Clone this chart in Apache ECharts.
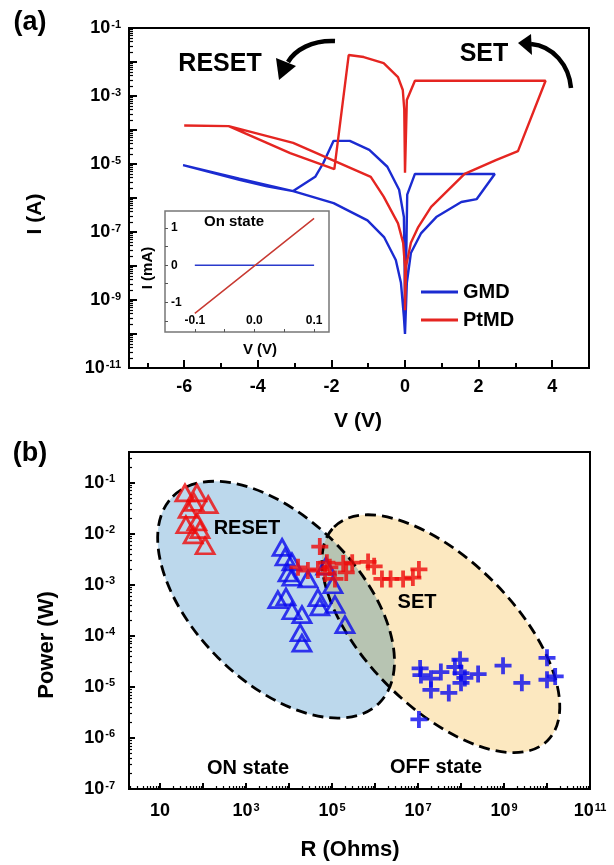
<!DOCTYPE html>
<html><head><meta charset="utf-8">
<script src="https://cdn.jsdelivr.net/npm/echarts@6/dist/echarts.min.js"></script>
<style>html,body{margin:0;padding:0;background:#fff}#c{width:614px;height:865px}</style>
</head><body><div id="c"></div>
<script>
// ---------- Panel (a): I-V sweeps (V in volts, I in amps) ----------
const gmdV = [0, 0.05, 0.16, 0.44, 0.85, 1.53, 1.95, 2.44, 0.27, 0.06, 0.03, 0, -0.01, -0.03, -0.16, -0.48, -0.97, -1.5, -1.94, -2.22, -2.44, -3.04, -4.5, -6.03, -4.5, -3.75, -3.04, -1.94, -1.02, -0.57, -0.25, -0.11, -0.03, 0];
const gmdI = [1.0e-10, 3.2e-9, 2.4e-8, 9.3e-8, 2.75e-7, 7.6e-7, 9.3e-7, 5.1e-6, 5.1e-6, 1.26e-6, 1.0e-8, 1.0e-10, 1.0e-8, 2.75e-7, 1.74e-6, 8.3e-6, 2.6e-5, 4.8e-5, 4.8e-5, 1.07e-5, 4.2e-6, 1.6e-6, 3.7e-6, 9.3e-6, 3.4e-6, 2.2e-6, 1.6e-6, 7.1e-7, 2.2e-7, 7.1e-8, 1.5e-8, 3.2e-9, 3.2e-10, 1.0e-10];
const ptmdV = [0, 0.03, 0.16, 0.36, 0.71, 1.62, 2.47, 3.07, 3.82, 0.27, 0.05, 0.0, -0.02, -0.06, -0.19, -0.58, -1.12, -1.53, -1.92, -3.12, -4.79, -6.0, -4.79, -3.04, -2.0, -0.93, -0.58, -0.19, -0.05, 0.0, 0.0];
const ptmdI = [5.0e-10, 1.0e-8, 4.8e-8, 1.4e-7, 5.5e-7, 5.1e-6, 1.3e-5, 2.4e-5, 2.8e-3, 2.8e-3, 7.6e-4, 5.5e-6, 4.0e-4, 1.5e-3, 3.6e-3, 9.3e-3, 1.4e-2, 1.6e-2, 7.1e-6, 2.1e-5, 1.3e-4, 1.35e-4, 1.3e-4, 4.2e-5, 1.35e-5, 4.2e-6, 1.1e-6, 1.8e-7, 4.8e-8, 9.3e-9, 5.0e-10];
// inset: On state (V, mA)
const insetV = [-0.1, -0.05, 0, 0.05, 0.1];
const insetPtmdI = [-1.3, -0.66, -0.02, 0.62, 1.26];
const insetGmdI = [0, 0, 0, 0, 0];
// axis ticks (a)
const aXTicks = [-6, -4, -2, 0, 2, 4];
const aXMinor = [-7, -5, -3, -1, 1, 3];
const aYExp = [-11, -9, -7, -5, -3, -1];
const insetXTicks = [-0.1, 0, 0.1];
const insetYTicks = [-1, 0, 1];

// ---------- Panel (b): Power vs Resistance ----------
const ptmdResetR = [38, 72, 62, 132, 40, 72, 59, 112, 45, 85];
const ptmdResetP = [0.063, 0.063, 0.041, 0.037, 0.015, 0.017, 0.0095, 0.0058, 0.030, 0.012];
const gmdResetR = [6900, 8100, 11700, 9500, 11700, 27500, 72000, 105000, 5500, 8500, 11700, 20000, 47000, 52000, 117000, 200000, 18200, 20000];
const gmdResetP = [0.0054, 0.0035, 0.0028, 0.0017, 0.0014, 0.0013, 0.0023, 0.0010, 0.00051, 0.00058, 0.00031, 0.00026, 0.00056, 0.00037, 0.00041, 0.000166, 0.000115, 0.000072];
const ptmdSetR = [52000, 16200, 27500, 47000, 69000, 89000, 117000, 182000, 214000, 295000, 690000, 955000, 1.45e6, 2.3e6, 4.5e6, 7.6e6, 1.05e7, 76000];
const ptmdSetP = [0.0056, 0.0022, 0.0019, 0.0020, 0.00166, 0.0022, 0.0013, 0.0026, 0.00174, 0.0027, 0.0028, 0.0023, 0.0013, 0.0013, 0.0013, 0.00138, 0.0020, 0.0027];
const gmdSetR = [1.12e7, 1.17e7, 2.0e7, 2.0e7, 3.4e7, 5.2e7, 7.2e7, 9.5e7, 1.0e8, 1.0e8, 1.23e8, 2.5e8, 9.5e8, 2.6e9, 1.0e10, 1.0e10, 1.55e10, 1.05e7];
const gmdSetP = [2.3e-5, 1.7e-5, 1.45e-5, 8.7e-6, 1.95e-5, 7.6e-6, 2.45e-5, 3.4e-5, 1.86e-5, 1.2e-5, 1.5e-5, 1.78e-5, 2.6e-5, 1.2e-5, 3.7e-5, 1.38e-5, 1.6e-5, 2.3e-6];
// ON / OFF state regions (centres)
const regionR = [5000, 3.4e7];
const regionP = [5.1e-4, 1.1e-4];
const bXExp = [1, 3, 5, 7, 9, 11];
const bYExp = [-7, -6, -5, -4, -3, -2, -1];

// ---------- helpers ----------
const L = Math.log10;
const FF = '"Liberation Sans", Arial, Helvetica, sans-serif';
const zip = (xs, ys, fx, fy) => xs.map((x, i) => [fx(x), fy(ys[i])]);
const id = v => v;
function logMinor(lo, hi) {
  const out = [];
  for (let n = Math.floor(lo); n < Math.ceil(hi); n++) {
    for (let k = 2; k <= 9; k++) { const v = n + L(k); if (v > lo && v < hi) out.push(v); }
  }
  return out;
}
function intRange(a, b) { const o = []; for (let i = Math.ceil(a); i <= Math.floor(b); i++) o.push(i); return o; }
const rich = {
  b: { fontSize: 18, fontWeight: 'bold', fontFamily: FF, color: '#000' },
  s: { fontSize: 11, fontWeight: 'bold', fontFamily: FF, color: '#000', verticalAlign: 'top', padding: [0, 0, 0, 1] }
};
const pow10 = v => '{b|10}{s|' + v + '}';
const blk = { color: '#000', width: 2 };

const aXMin = -7.5, aXMax = 5, aYMin = -11, aYMax = -1;
const bXMin = L(1.9), bXMax = 11, bYMin = -7, bYMax = -0.4;

const PLUS = 'path://M7,0H11V7H18V11H11V18H7V11H0V7H7Z';
const RED = '#ee0a0a', BLUE = '#0a0aee';

// region ellipse look (pixels)
const ELL = [{ rx: 146, ry: 82, fill: '#bcd8ec' }, { rx: 151, ry: 74, fill: '#fce8c0' }];
const OVERLAP_FILL = '#b7c4b2';
const TH = Math.PI / 4; // clockwise tilt on screen

function ellPoint(c, e, t) {
  const x = e.rx * Math.cos(t), y = e.ry * Math.sin(t);
  return [c[0] + x * Math.cos(TH) - y * Math.sin(TH), c[1] + x * Math.sin(TH) + y * Math.cos(TH)];
}
function inside(c, e, p) {
  const dx = p[0] - c[0], dy = p[1] - c[1];
  const u = dx * Math.cos(TH) + dy * Math.sin(TH), v = -dx * Math.sin(TH) + dy * Math.cos(TH);
  return (u * u) / (e.rx * e.rx) + (v * v) / (e.ry * e.ry) <= 1;
}
function overlapPoly(c0, c1) {
  const pts = [];
  for (let i = 0; i < 720; i++) {
    const t = i / 720 * 2 * Math.PI;
    const a = ellPoint(c0, ELL[0], t); if (inside(c1, ELL[1], a)) pts.push(a);
    const b = ellPoint(c1, ELL[1], t); if (inside(c0, ELL[0], b)) pts.push(b);
  }
  if (!pts.length) return [];
  const mx = pts.reduce((s, p) => s + p[0], 0) / pts.length, my = pts.reduce((s, p) => s + p[1], 0) / pts.length;
  pts.sort((p, q) => Math.atan2(p[1] - my, p[0] - mx) - Math.atan2(q[1] - my, q[0] - mx));
  return pts;
}
const ellEl = (c, e, style) => ({ type: 'ellipse', x: c[0], y: c[1], rotation: -TH, shape: { cx: 0, cy: 0, rx: e.rx, ry: e.ry }, style: style });
const DASH = { fill: null, stroke: '#000', lineWidth: 2.8, lineDash: [11, 6] };

const chart = echarts.init(document.getElementById('c'), null, { renderer: 'canvas' });

const option = {
  backgroundColor: '#fff',
  animation: false,
  grid: [
    { left: 129, right: 25, top: 28, bottom: 497, show: true, borderColor: '#000', borderWidth: 2 },
    { left: 165, right: 285, top: 211, bottom: 533, show: true, borderColor: '#777', borderWidth: 1.5, backgroundColor: '#fff' },
    { left: 129, right: 24, top: 452, bottom: 76, show: true, borderColor: '#000', borderWidth: 2 }
  ],
  xAxis: [
    { gridIndex: 0, type: 'value', min: aXMin, max: aXMax, position: 'bottom',
      axisLine: { show: true, onZero: false, lineStyle: blk }, splitLine: { show: false },
      axisTick: { inside: true, length: 8, lineStyle: blk, customValues: aXTicks },
      axisLabel: { customValues: aXTicks, fontSize: 18, fontWeight: 'bold', fontFamily: FF, color: '#000', margin: 10 } },
    { gridIndex: 0, type: 'value', min: aXMin, max: aXMax, position: 'bottom',
      axisLine: { show: false, onZero: false }, splitLine: { show: false }, axisLabel: { show: false },
      axisTick: { inside: true, length: 5, lineStyle: blk, customValues: aXMinor } },
    { gridIndex: 1, type: 'value', min: -0.15, max: 0.125, position: 'bottom',
      axisLine: { show: false, onZero: false }, splitLine: { show: false },
      axisTick: { inside: true, length: 3, lineStyle: { color: '#555', width: 1 }, customValues: [-0.1, -0.05, 0, 0.05, 0.1] },
      axisLabel: { inside: true, customValues: insetXTicks, formatter: v => v.toFixed(1), fontSize: 12, fontWeight: 'bold', fontFamily: FF, color: '#000', margin: 5 } },
    { gridIndex: 2, type: 'value', min: bXMin, max: bXMax, position: 'bottom',
      axisLine: { show: true, onZero: false, lineStyle: blk }, splitLine: { show: false },
      axisTick: { inside: true, length: 6, lineStyle: blk, customValues: intRange(1, 10) },
      axisLabel: { customValues: bXExp, formatter: v => v === 1 ? '{b|10}' : pow10(v), rich: rich, margin: 13 } },
    { gridIndex: 2, type: 'value', min: bXMin, max: bXMax, position: 'bottom',
      axisLine: { show: false, onZero: false }, splitLine: { show: false }, axisLabel: { show: false },
      axisTick: { inside: true, length: 3, lineStyle: { color: '#000', width: 1.2 }, customValues: logMinor(bXMin, bXMax) } }
  ],
  yAxis: [
    { gridIndex: 0, type: 'value', min: aYMin, max: aYMax, position: 'left',
      axisLine: { show: true, onZero: false, lineStyle: blk }, splitLine: { show: false },
      axisTick: { inside: true, length: 8, lineStyle: blk, customValues: intRange(aYMin, aYMax) },
      axisLabel: { customValues: aYExp, formatter: pow10, rich: rich, margin: 8 } },
    { gridIndex: 0, type: 'value', min: aYMin, max: aYMax, position: 'left',
      axisLine: { show: false, onZero: false }, splitLine: { show: false }, axisLabel: { show: false },
      axisTick: { inside: true, length: 4, lineStyle: { color: '#000', width: 1.2 }, customValues: logMinor(aYMin, aYMax) } },
    { gridIndex: 1, type: 'value', min: -1.8, max: 1.46, position: 'left',
      axisLine: { show: false, onZero: false }, splitLine: { show: false },
      axisTick: { inside: true, length: 3, lineStyle: { color: '#555', width: 1 }, customValues: [-1.5, -1, -0.5, 0, 0.5, 1] },
      axisLabel: { inside: true, customValues: insetYTicks, fontSize: 12, fontWeight: 'bold', fontFamily: FF, color: '#000', margin: 6 } },
    { gridIndex: 2, type: 'value', min: bYMin, max: bYMax, position: 'left',
      axisLine: { show: true, onZero: false, lineStyle: blk }, splitLine: { show: false },
      axisTick: { inside: true, length: 6, lineStyle: blk, customValues: bYExp },
      axisLabel: { customValues: bYExp, formatter: pow10, rich: rich, margin: 14 } },
    { gridIndex: 2, type: 'value', min: bYMin, max: bYMax, position: 'left',
      axisLine: { show: false, onZero: false }, splitLine: { show: false }, axisLabel: { show: false },
      axisTick: { inside: true, length: 3, lineStyle: { color: '#000', width: 1.2 }, customValues: logMinor(bYMin, bYMax) } }
  ],
  legend: {
    data: [{ name: 'GMD', icon: 'rect' }, { name: 'PtMD', icon: 'rect' }],
    orient: 'vertical', left: 416, top: 277, itemWidth: 37, itemHeight: 3, itemGap: 8,
    selectedMode: false,
    textStyle: { fontSize: 20, fontWeight: 'bold', fontFamily: FF, color: '#000' }
  },
  series: [
    { name: 'GMD', type: 'line', xAxisIndex: 0, yAxisIndex: 0, symbol: 'none', color: '#1b2bd1',
      lineStyle: { width: 2.4, color: '#1b2bd1' }, data: zip(gmdV, gmdI, id, L) },
    { name: 'PtMD', type: 'line', xAxisIndex: 0, yAxisIndex: 0, symbol: 'none', color: '#e52521',
      lineStyle: { width: 2.4, color: '#e52521' }, data: zip(ptmdV, ptmdI, id, L) },
    { name: 'inset GMD', type: 'line', xAxisIndex: 2, yAxisIndex: 2, symbol: 'none',
      lineStyle: { width: 1.5, color: '#2a3acc' }, data: zip(insetV, insetGmdI, id, id) },
    { name: 'inset PtMD', type: 'line', xAxisIndex: 2, yAxisIndex: 2, symbol: 'none',
      lineStyle: { width: 1.5, color: '#c83a32' }, data: zip(insetV, insetPtmdI, id, id) },
    { name: 'regions', type: 'custom', xAxisIndex: 3, yAxisIndex: 3, z: 1, silent: true,
      data: zip(regionR, regionP, L, L),
      renderItem: function (params, api) {
        const c0 = api.coord([L(regionR[0]), L(regionP[0])]);
        const c1 = api.coord([L(regionR[1]), L(regionP[1])]);
        if (params.dataIndex === 0) return ellEl(c0, ELL[0], { fill: ELL[0].fill });
        return { type: 'group', children: [
          ellEl(c1, ELL[1], { fill: ELL[1].fill }),
          { type: 'polygon', shape: { points: overlapPoly(c0, c1) }, style: { fill: OVERLAP_FILL } },
          ellEl(c0, ELL[0], DASH),
          ellEl(c1, ELL[1], DASH)
        ] };
      } },
    { name: 'PtMD RESET', type: 'scatter', xAxisIndex: 3, yAxisIndex: 3, z: 3, symbol: 'triangle', symbolSize: [18, 16],
      itemStyle: { color: 'rgba(0,0,0,0)', borderColor: RED, borderWidth: 2.8 }, data: zip(ptmdResetR, ptmdResetP, L, L) },
    { name: 'GMD RESET', type: 'scatter', xAxisIndex: 3, yAxisIndex: 3, z: 3, symbol: 'triangle', symbolSize: [18, 16],
      itemStyle: { color: 'rgba(0,0,0,0)', borderColor: BLUE, borderWidth: 2.8 }, data: zip(gmdResetR, gmdResetP, L, L) },
    { name: 'PtMD SET', type: 'scatter', xAxisIndex: 3, yAxisIndex: 3, z: 4, symbol: PLUS, symbolSize: 17,
      itemStyle: { color: RED }, data: zip(ptmdSetR, ptmdSetP, L, L) },
    { name: 'GMD SET', type: 'scatter', xAxisIndex: 3, yAxisIndex: 3, z: 4, symbol: PLUS, symbolSize: 17,
      itemStyle: { color: BLUE }, data: zip(gmdSetR, gmdSetP, L, L) }
  ],
  graphic: [
    { type: 'text', x: 30, y: 23, style: { text: '(a)', font: 'bold 27px ' + FF, fill: '#000', align: 'center', verticalAlign: 'middle' } },
    { type: 'text', x: 30, y: 454, style: { text: '(b)', font: 'bold 27px ' + FF, fill: '#000', align: 'center', verticalAlign: 'middle' } },
    { type: 'text', x: 220, y: 64, style: { text: 'RESET', font: 'bold 25px ' + FF, fill: '#000', align: 'center', verticalAlign: 'middle' } },
    { type: 'text', x: 484, y: 54, style: { text: 'SET', font: 'bold 25px ' + FF, fill: '#000', align: 'center', verticalAlign: 'middle' } },
    { type: 'bezierCurve', shape: { x1: 335, y1: 41, cpx1: 312, cpy1: 40, cpx2: 295, cpy2: 50, x2: 288, y2: 62 },
      style: { stroke: '#000', lineWidth: 4.5, fill: null } },
    { type: 'polygon', shape: { points: [[276, 58], [296, 66], [279, 80]] }, style: { fill: '#000' } },
    { type: 'bezierCurve', shape: { x1: 571, y1: 88, cpx1: 569, cpy1: 65, cpx2: 553, cpy2: 46, x2: 531, y2: 44 },
      style: { stroke: '#000', lineWidth: 4.5, fill: null } },
    { type: 'polygon', shape: { points: [[518, 43], [531, 34], [532, 55]] }, style: { fill: '#000' } },
    { type: 'text', x: 35, y: 214, rotation: Math.PI / 2, style: { text: 'I (A)', font: 'bold 21px ' + FF, fill: '#000', align: 'center', verticalAlign: 'middle' } },
    { type: 'text', x: 358, y: 421, style: { text: 'V (V)', font: 'bold 21px ' + FF, fill: '#000', align: 'center', verticalAlign: 'middle' } },
    { type: 'text', x: 234, y: 222, z: 10, style: { text: 'On state', font: 'bold 15px ' + FF, fill: '#000', align: 'center', verticalAlign: 'middle' } },
    { type: 'text', x: 148, y: 268, rotation: Math.PI / 2, style: { text: 'I (mA)', font: 'bold 15px ' + FF, fill: '#000', align: 'center', verticalAlign: 'middle' } },
    { type: 'text', x: 260, y: 350, style: { text: 'V (V)', font: 'bold 15px ' + FF, fill: '#000', align: 'center', verticalAlign: 'middle' } },
    { type: 'text', x: 47, y: 645, rotation: Math.PI / 2, style: { text: 'Power (W)', font: 'bold 22px ' + FF, fill: '#000', align: 'center', verticalAlign: 'middle' } },
    { type: 'text', x: 350, y: 850, style: { text: 'R (Ohms)', font: 'bold 22px ' + FF, fill: '#000', align: 'center', verticalAlign: 'middle' } },
    { type: 'text', x: 247, y: 528, z: 10, style: { text: 'RESET', font: 'bold 20px ' + FF, fill: '#000', align: 'center', verticalAlign: 'middle' } },
    { type: 'text', x: 417, y: 602, z: 10, style: { text: 'SET', font: 'bold 20px ' + FF, fill: '#000', align: 'center', verticalAlign: 'middle' } },
    { type: 'text', x: 248, y: 768, style: { text: 'ON state', font: 'bold 20px ' + FF, fill: '#000', align: 'center', verticalAlign: 'middle' } },
    { type: 'text', x: 436, y: 767, style: { text: 'OFF state', font: 'bold 20px ' + FF, fill: '#000', align: 'center', verticalAlign: 'middle' } }
  ]
};
chart.setOption(option);
</script></body></html>
